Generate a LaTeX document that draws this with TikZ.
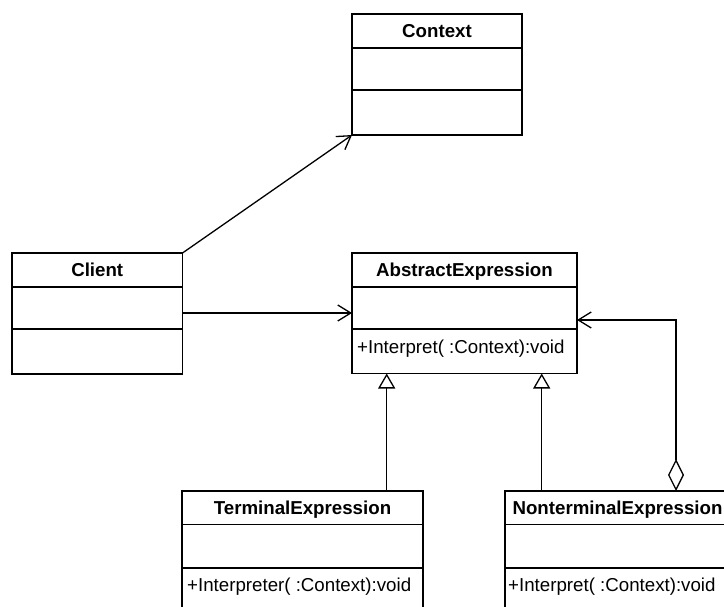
\documentclass[tikz,border=0pt]{standalone}
\usepackage{fontspec}
\setmainfont{Liberation Sans}
\usetikzlibrary{arrows.meta,calc}

\tikzset{
  cls/.style={draw, line width=1.3pt, fill=white, rectangle, anchor=north west, inner sep=0pt, outer sep=0pt},
  divider/.style={line width=1.1pt},
  title/.style={anchor=base, font=\fontsize{18.7}{22}\selectfont\bfseries, inner sep=0pt},
  member/.style={anchor=base west, font=\fontsize{18.7}{22}\selectfont, inner sep=0pt},
  link/.style={line width=1.3pt, line join=miter},
  navigable/.style={link, -{Straight Barb[length=13pt, width=16pt, line width=1.3pt]}},
  inherits/.style={link, -{Triangle[open, length=15pt, width=17pt, line width=1.3pt, fill=white]}},
  aggregates/.style={link, {Diamond[open, length=32pt, width=16pt, line width=1.3pt, fill=white]}-{Straight Barb[length=13pt, width=16pt, line width=1.3pt]}}
}

\begin{document}
\begin{tikzpicture}[x=1pt, y=-1pt]
  \useasboundingbox (0,0) rectangle (724,607);
  \clip (0,0) rectangle (724,607);

  % class boxes
  \node[cls, minimum width=170pt, minimum height=121pt] (ctx) at (352,14) {};
  \node[cls, minimum width=170.5pt, minimum height=121pt] (cli) at (12,253) {};
  \node[cls, minimum width=225pt, minimum height=120.5pt] (abs) at (352,253) {};
  \node[cls, minimum width=241pt, minimum height=130pt] (ter) at (182,491) {};
  \node[cls, minimum width=225pt, minimum height=130pt] (non) at (505,491) {};

  % compartment dividers
  \foreach \b/\da/\db in {ctx/34/76, cli/34/76, abs/34/76, ter/33.5/77, non/33.5/77} {
    \draw[divider] ($(\b.north west)+(0,\da)$) -- ($(\b.north east)+(0,\da)$);
    \draw[divider] ($(\b.north west)+(0,\db)$) -- ($(\b.north east)+(0,\db)$);
  }

  % names
  \node[title] (ctxname) at ($(ctx.north)+(0,23.5)$) {Context};
  \node[title] (cliname) at ($(cli.north)+(0,23.5)$) {Client};
  \node[title] (absname) at ($(abs.north)+(0,23.5)$) {AbstractExpression};
  \node[title] (tername) at ($(ter.north)+(0,23)$) {TerminalExpression};
  \node[title] (nonname) at ($(non.north)+(0,23)$) {NonterminalExpression};

  % operations
  \node[member] (absop) at ($(abs.north west)+(5,100)$) {+Interpret( :Context):void};
  \node[member] (terop) at ($(ter.north west)+(5,100.5)$) {+Interpreter( :Context):void};
  \node[member] (nonop) at ($(non.north west)+(3,100.5)$) {+Interpret( :Context):void};

  % associations
  \draw[navigable] (cli.north east) -- (ctx.south west);
  \coordinate (climid) at (182.5,313);
  \draw[navigable] (climid) -- (abs.west |- climid);

  % generalizations
  \coordinate (terlink) at (386.7,0);
  \coordinate (nonlink) at (541.7,0);
  \draw[inherits] (ter.north -| terlink) -- (abs.south -| terlink);
  \draw[inherits] (non.north -| nonlink) -- (abs.south -| nonlink);

  % aggregation back to the abstract expression
  \coordinate (bend) at (676,320);
  \draw[aggregates] (non.north -| bend) -- (bend) -- (abs.east |- bend);
\end{tikzpicture}
\end{document}
